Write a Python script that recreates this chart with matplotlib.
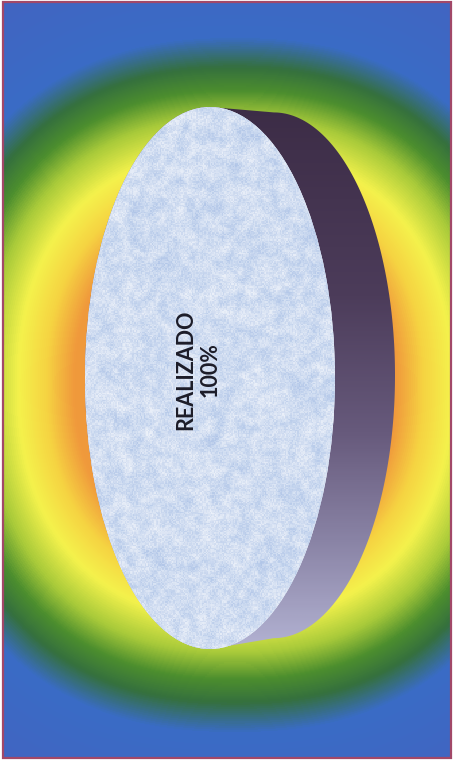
import numpy as np
import matplotlib
matplotlib.use("Agg")
import matplotlib.pyplot as plt
from matplotlib.colors import LinearSegmentedColormap
from matplotlib.patches import Rectangle, Polygon

# Chart data
categories = ["REALIZADO"]
values = [100]

W, H = 454, 766
fig = plt.figure(figsize=(W / 100, H / 100), dpi=100)
fig.patch.set_facecolor("white")

# ---- background: rounded radial gradient inside a thin frame ----
bg = fig.add_axes([0, 0, 1, 1])
bg.set_xlim(0, W)
bg.set_ylim(H, 0)
bg.axis("off")

x0, x1, y0, y1 = 3, 451, 2, 758
xx, yy = np.meshgrid(np.linspace(x0, x1, 450), np.linspace(y0, y1, 760))
p = 2.3
r = (np.abs((xx - 235) / 310.0) ** p + np.abs((yy - 385) / 335.0) ** p) ** (1 / p)
RMAX = 1.6
stops = [(0.00, "#ee8a30"), (0.52, "#f09a3c"), (0.61, "#f6d442"), (0.70, "#f4f24c"),
         (0.80, "#a8ca3a"), (0.88, "#4c8e2e"), (0.95, "#35703e"), (1.04, "#3a6cc6"),
         (1.60, "#4a5cbc")]
bg_cmap = LinearSegmentedColormap.from_list("bg", [(q / RMAX, c) for q, c in stops])
bg.imshow(np.clip(r / RMAX, 0, 1), cmap=bg_cmap, vmin=0, vmax=1,
          extent=(x0, x1, y1, y0), origin="upper", aspect="auto",
          interpolation="bilinear", zorder=0)
bg.add_patch(Rectangle((x0, y0), x1 - x0, y1 - y0, fill=False,
                       edgecolor="#a24868", linewidth=1.6, zorder=2))

# ---- 3D pie: top face drawn with ax.pie, extruded side to the right ----
rx_px, ry_px = 125.0, 271.0      # face radius in pixels along x and y
cx_px, cy_px = 210.0, 378.0      # face centre in pixels (from top-left)
pa = fig.add_axes([0, 0, 1, 1], facecolor="none")
wedges, _ = pa.pie(values, colors=["#dfe8f5"], startangle=90, radius=1,
                   wedgeprops=dict(linewidth=0))
pa.set_aspect("auto")
xlim = (-cx_px / rx_px, (W - cx_px) / rx_px)
ylim = (-(H - cy_px) / ry_px, cy_px / ry_px)
pa.axis("off")
for w in wedges:
    w.set_zorder(3)

# side of the disc: back ellipse offset to the right, slightly smaller
dx, dy, sx, sy = 0.51, 0.01, 0.97, 0.97
t_back = np.linspace(np.pi / 2, -np.pi / 2, 200)
t_front = np.linspace(-np.pi / 2, -3 * np.pi / 2, 200)
pts = np.vstack([
    np.column_stack([dx + sx * np.cos(t_back), dy + sy * np.sin(t_back)]),
    np.column_stack([np.cos(t_front), np.sin(t_front)]),
])
side_poly = Polygon(pts, closed=True, facecolor="none", edgecolor="none")
pa.add_patch(side_poly)
side_cmap = LinearSegmentedColormap.from_list(
    "side", [(0.0, "#3c2c46"), (0.35, "#4c3c5a"), (0.6, "#675a7c"),
             (0.8, "#8a84a6"), (1.0, "#b4b4d4")])
grad = np.linspace(0, 1, 300)[:, None] * np.ones((1, 10))
side_img = pa.imshow(grad, cmap=side_cmap, extent=(-1.1, dx + 1.05, -1.02, 1.02),
                     origin="upper", aspect="auto", interpolation="bilinear", zorder=1)
side_img.set_clip_path(side_poly)

# paper-like texture on the top face: soft blotches plus fine grain
rng = np.random.default_rng(7)
blot = rng.random((110, 50))
fine = rng.random((400, 190))
tex_cmap = LinearSegmentedColormap.from_list(
    "tex", ["#aec4e8", "#c8d8f0", "#dfe8f6", "#f2f6fc"])
tex_img = pa.imshow(blot, cmap=tex_cmap, extent=(-1.02, 1.02, -1.02, 1.02),
                    origin="lower", aspect="auto", interpolation="bicubic", zorder=4)
tex_img.set_clip_path(wedges[0])
grain_cmap = LinearSegmentedColormap.from_list("grain", ["#9fb6e0", "#f6f8fd"])
grain_img = pa.imshow(fine, cmap=grain_cmap, extent=(-1.02, 1.02, -1.02, 1.02),
                      origin="lower", aspect="auto", interpolation="nearest",
                      alpha=0.3, zorder=4.5)
grain_img.set_clip_path(wedges[0])
pa.set_xlim(*xlim)
pa.set_ylim(*ylim)

# data label
pa.text(-0.10, 0.03, f"{categories[0]}\n{values[0]}%", rotation=90,
        ha="center", va="center", multialignment="center",
        fontsize=15.5, fontweight="bold", family=["Lato", "DejaVu Sans"],
        color="#1c1c28", linespacing=1.2, zorder=6)

fig.savefig("out.png", dpi=100)
